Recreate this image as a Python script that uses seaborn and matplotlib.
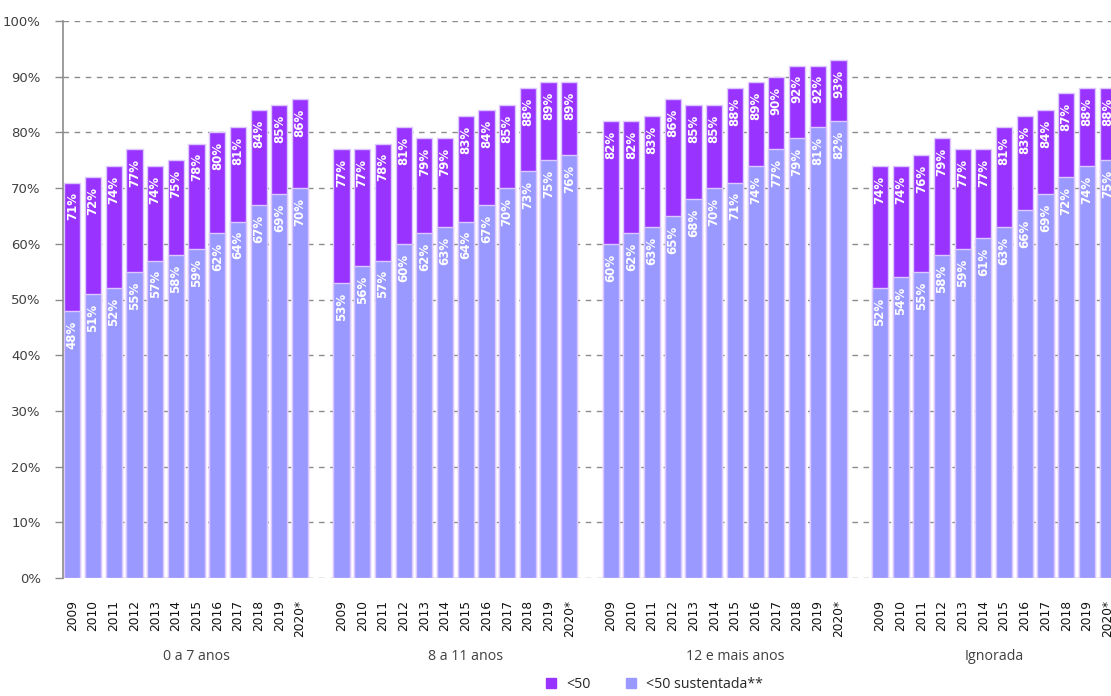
import matplotlib
matplotlib.use("Agg")
import matplotlib.pyplot as plt
from matplotlib.ticker import PercentFormatter, FixedLocator
from matplotlib.lines import Line2D
import numpy as np
import pandas as pd
import seaborn as sns

# Faixas etárias e anos
groups = ["0 a 7 anos", "8 a 11 anos", "12 e mais anos", "Ignorada"]
years = ["2009", "2010", "2011", "2012", "2013", "2014",
         "2015", "2016", "2017", "2018", "2019", "2020*"]

# Carga viral <50 (%)
below50 = {
    "0 a 7 anos":     [71, 72, 74, 77, 74, 75, 78, 80, 81, 84, 85, 86],
    "8 a 11 anos":    [77, 77, 78, 81, 79, 79, 83, 84, 85, 88, 89, 89],
    "12 e mais anos": [82, 82, 83, 86, 85, 85, 88, 89, 90, 92, 92, 93],
    "Ignorada":       [74, 74, 76, 79, 77, 77, 81, 83, 84, 87, 88, 88],
}
# Carga viral <50 sustentada (%)
below50_sust = {
    "0 a 7 anos":     [48, 51, 52, 55, 57, 58, 59, 62, 64, 67, 69, 70],
    "8 a 11 anos":    [53, 56, 57, 60, 62, 63, 64, 67, 70, 73, 75, 76],
    "12 e mais anos": [60, 62, 63, 65, 68, 70, 71, 74, 77, 79, 81, 82],
    "Ignorada":       [52, 54, 55, 58, 59, 61, 63, 66, 69, 72, 74, 75],
}

C_TOTAL = "#9933FF"
C_SUST = "#9999FF"
EDGE = "#DCC8FF"
TXT = "#404040"

# one empty slot between age groups
slot = len(years) + 1
rows = []
for gi, g in enumerate(groups):
    for yi, y in enumerate(years):
        rows.append({"grupo": g, "ano": y, "pos": gi * slot + yi,
                     "total": below50[g][yi], "sust": below50_sust[g][yi]})
df = pd.DataFrame(rows)

sns.set_theme(style="white")
plt.rcParams["font.family"] = ["DejaVu Sans"]

fig = plt.figure(figsize=(11.11, 6.96), dpi=100)
ax = fig.add_axes([63 / 1111, 118 / 696, 1055 / 1111, 557 / 696])

bw = 0.78
sns.barplot(data=df, x="pos", y="total", native_scale=True, color=C_TOTAL,
            saturation=1, width=bw, errorbar=None, edgecolor=EDGE,
            linewidth=1.0, ax=ax)
sns.barplot(data=df, x="pos", y="sust", native_scale=True, color=C_SUST,
            saturation=1, width=bw, errorbar=None, edgecolor=EDGE,
            linewidth=1.0, ax=ax)

# value labels inside the top of each bar
for _, r in df.iterrows():
    for col in ("total", "sust"):
        v = r[col]
        ax.annotate(f"{v}%", (r["pos"], v), xytext=(0, -7),
                    textcoords="offset points", rotation=90,
                    ha="center", va="top", color="white",
                    fontsize=8.5, fontweight="bold", clip_on=True)

ax.set_xlim(-0.45, len(groups) * slot - 1 - 0.5)
ax.set_ylim(0, 100)
ax.yaxis.set_major_locator(FixedLocator(np.arange(0, 101, 10)))
ax.yaxis.set_major_formatter(PercentFormatter(decimals=0))
ax.grid(axis="y", color="#8C8C8C", linestyle=(0, (4, 4)), linewidth=1.0)
ax.set_axisbelow(True)
for s in ("top", "right", "bottom"):
    ax.spines[s].set_visible(False)
ax.spines["left"].set_color("#8C8C8C")
ax.spines["left"].set_linewidth(1.2)
ax.tick_params(axis="y", left=True, length=6, width=1, color="#8C8C8C",
               labelsize=9.5, labelcolor=TXT, pad=10)

ax.set_xticks(df["pos"].tolist())
ax.set_xticklabels(df["ano"].tolist(), rotation=90, fontsize=8.8, color="#111111")
ax.tick_params(axis="x", bottom=False, pad=10)
ax.set_xlabel("")
ax.set_ylabel("")

# age-group captions under the years
for gi, g in enumerate(groups):
    n = slot if gi < len(groups) - 1 else len(years)
    cx = gi * slot + (n - 1) / 2
    ax.text(cx, -0.141, g, transform=ax.get_xaxis_transform(),
            ha="center", va="center", fontsize=10.2, color=TXT,
            family=["Open Sans", "DejaVu Sans"])

handles = [
    Line2D([], [], marker="s", linestyle="none", markersize=6.5,
           markerfacecolor=C_TOTAL, markeredgecolor=C_TOTAL, label="<50"),
    Line2D([], [], marker="s", linestyle="none", markersize=6.5,
           markerfacecolor=C_SUST, markeredgecolor=C_SUST, label="<50 sustentada**"),
]
fig.legend(handles=handles, loc="center", bbox_to_anchor=(0.585, 0.016),
           ncol=2, frameon=False, handletextpad=0.1, columnspacing=1.8,
           prop={"family": ["Open Sans", "DejaVu Sans"], "size": 10.2})

fig.savefig("out.png", dpi=100)
